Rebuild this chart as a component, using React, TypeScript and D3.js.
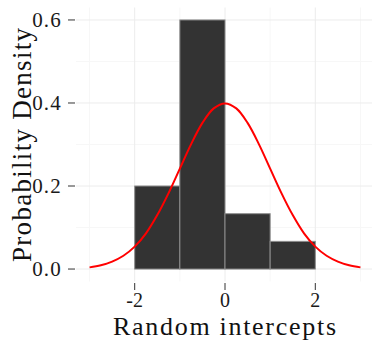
import React from 'react';
import * as d3 from 'd3';

// histogram bins (left edges + width 1) and their densities
const binStarts = [-2, -1, 0, 1];
const binDensity = [0.2, 0.6, 0.1333, 0.0667];

// red density curve, every 0.25
const curveX = [-3, -2.75, -2.5, -2.25, -2, -1.75, -1.5, -1.25, -1, -0.75, -0.5, -0.25, 0,
    0.25, 0.5, 0.75, 1, 1.25, 1.5, 1.75, 2, 2.25, 2.5, 2.75, 3];
const curveY = [0.004, 0.009, 0.018, 0.032, 0.054, 0.086, 0.13, 0.183, 0.242, 0.301, 0.352, 0.387, 0.399,
    0.387, 0.352, 0.301, 0.242, 0.183, 0.13, 0.086, 0.054, 0.032, 0.018, 0.009, 0.004];

const xTicks = [-2, 0, 2];
const xMinor = [-3, -1, 1, 3];
const yTicks = [0, 0.2, 0.4, 0.6];
const yMinor = [0.1, 0.3, 0.5];

const font = '"Liberation Serif", "DejaVu Serif", serif';

const App = () => {
    const width = 372;
    const height = 340;
    const panel = { left: 76, right: 374, top: 7.5, bottom: 281.5 };

    const x = d3.scaleLinear().domain([-3.3, 3.3]).range([panel.left, panel.right]);
    const y = d3.scaleLinear().domain([-0.03, 0.63]).range([panel.bottom, panel.top]);

    const line = d3.line<number>()
        .x((d, i) => x(curveX[i]))
        .y(d => y(d))
        .curve(d3.curveCatmullRom);

    return (
        <svg width={width} height={height} style={{ position: 'absolute', left: 0, top: 0 }}>
            <rect width={width} height={height} fill="white" />
            {/* minor grid */}
            {yMinor.map(t => (
                <line key={'ym' + t} x1={panel.left} x2={panel.right} y1={y(t)} y2={y(t)} stroke="#f7f7f7" strokeWidth={1} />
            ))}
            {xMinor.map(t => (
                <line key={'xm' + t} x1={x(t)} x2={x(t)} y1={panel.top} y2={panel.bottom} stroke="#f7f7f7" strokeWidth={1} />
            ))}
            {/* major grid */}
            {yTicks.map(t => (
                <line key={'y' + t} x1={panel.left} x2={panel.right} y1={y(t)} y2={y(t)} stroke="#ececec" strokeWidth={1} />
            ))}
            {xTicks.map(t => (
                <line key={'x' + t} x1={x(t)} x2={x(t)} y1={panel.top} y2={panel.bottom} stroke="#ececec" strokeWidth={1} />
            ))}
            {/* bars */}
            {binStarts.map((b, i) => (
                <rect key={b} x={x(b)} y={y(binDensity[i])} width={x(b + 1) - x(b)} height={y(0) - y(binDensity[i])}
                    fill="#333333" stroke="#8c8c8c" strokeWidth={1} />
            ))}
            <path d={line(curveY) || ''} fill="none" stroke="#ff0000" strokeWidth={2} />
            {/* y axis ticks */}
            {yTicks.map(t => (
                <g key={'yt' + t}>
                    <line x1={68} x2={75} y1={y(t)} y2={y(t)} stroke="#333" strokeWidth={1} />
                    <text x={62} y={y(t)} dy="0.35em" textAnchor="end" fontFamily={font} fontSize={21}
                        letterSpacing={1.2} fill="#1a1a1a">
                        {t.toFixed(1)}
                    </text>
                </g>
            ))}
            {/* x axis ticks */}
            {xTicks.map(t => (
                <g key={'xt' + t}>
                    <line x1={x(t)} x2={x(t)} y1={283} y2={290} stroke="#333" strokeWidth={1} />
                    <text x={x(t)} y={307} textAnchor="middle" fontFamily={font} fontSize={20} fill="#1a1a1a">
                        {t}
                    </text>
                </g>
            ))}
            <text x={224.5} y={335} textAnchor="middle" fontFamily={font} fontSize={26}
                textLength={223} lengthAdjust="spacing" fill="#111">
                Random intercepts
            </text>
            <text transform={`translate(31,145) rotate(-90)`} textAnchor="middle" fontFamily={font} fontSize={27}
                textLength={234} lengthAdjust="spacing" fill="#111">
                Probability Density
            </text>
        </svg>
    );
};

export default App;
